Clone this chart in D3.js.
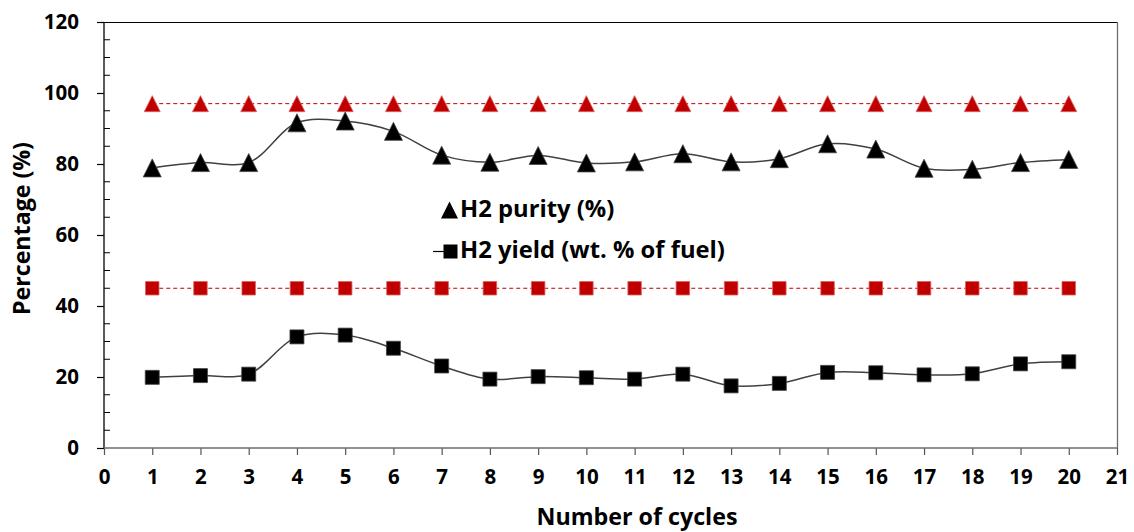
<!DOCTYPE html>
<html><head><meta charset="utf-8">
<script src="https://cdn.jsdelivr.net/npm/d3@7/dist/d3.min.js"></script>
<style>body{margin:0;background:#fff}svg{display:block}text{font-family:"Open Sans",sans-serif;font-weight:bold;fill:#000}</style>
</head><body><svg id="c" width="1134" height="532"></svg>
<script>
const cycles = [1,2,3,4,5,6,7,8,9,10,11,12,13,14,15,16,17,18,19,20];
const purity = [78.9,80.4,80.4,91.6,92.1,89.2,82.5,80.5,82.4,80.3,80.6,82.9,80.6,81.5,85.7,84.2,78.8,78.5,80.4,81.3];
const purityRef = [97,97,97,97,97,97,97,97,97,97,97,97,97,97,97,97,97,97,97,97];
const yieldVals = [19.9,20.4,20.8,31.3,31.8,28.1,23.1,19.4,20.1,19.8,19.4,20.8,17.5,18.2,21.3,21.2,20.6,20.9,23.7,24.3];
const yieldRef = [45,45,45,45,45,45,45,45,45,45,45,45,45,45,45,45,45,45,45,45];
const xTicks = d3.range(0,22);
const yTicks = [0,20,40,60,80,100,120];
const legendLabels = ["H2 purity (%)","H2 yield (wt. % of fuel)"];

const svg = d3.select("#c");
const L=104, R=1117, T=22, B=448;
const x = d3.scaleLinear().domain([0,21]).range([L,R]);
const y = d3.scaleLinear().domain([0,120]).range([B,T]);

function fit(sel, target){ const w = sel.node().getComputedTextLength(); const fs = parseFloat(sel.style("font-size")); const n = fs*target/w; sel.style("font-size", n.toFixed(2)+"px"); return n; }
const triType = { draw(ctx, s){ const h=s/2; ctx.moveTo(0,-h); ctx.lineTo(h,h); ctx.lineTo(-h,h); ctx.closePath(); } };
const sqType = { draw(ctx, s){ const h=s/2; ctx.rect(-h,-h,s,s); } };

svg.append("line").attr("x1",L).attr("x2",R).attr("y1",T+0.5).attr("y2",T+0.5).attr("stroke","#000").attr("stroke-width",1);
svg.append("line").attr("x1",R+0.5).attr("x2",R+0.5).attr("y1",T).attr("y2",B).attr("stroke","#6d6d6d").attr("stroke-width",1.3);

const ya = svg.append("g").attr("transform",`translate(${L},0)`)
  .call(d3.axisLeft(y).tickValues(yTicks).tickSize(7).tickPadding(18).tickFormat(d3.format("d")));
ya.select(".domain").remove();
ya.append("line").attr("x1",0).attr("x2",0).attr("y1",T).attr("y2",B).attr("stroke","#000").attr("stroke-width",1.3);
ya.selectAll(".tick line").attr("stroke","#000").attr("stroke-width",1.2);
ya.selectAll("text").style("font-size","20.5px");
const minor = d3.range(5,120,5).filter(v=>v%20!==0);
svg.append("g").selectAll("line").data(minor).join("line")
  .attr("x1",L).attr("x2",L+6).attr("y1",d=>y(d)).attr("y2",d=>y(d)).attr("stroke","#000").attr("stroke-width",1);

const xa = svg.append("g").attr("transform",`translate(0,${B})`)
  .call(d3.axisBottom(x).tickValues(xTicks).tickSize(7).tickPadding(14).tickFormat(d3.format("d")));
xa.select(".domain").remove();
xa.append("line").attr("x1",L).attr("x2",R).attr("y1",0).attr("y2",0).attr("stroke","#6d6d6d").attr("stroke-width",1.5);
xa.selectAll(".tick line").attr("stroke","#555").attr("stroke-width",1.2);
xa.selectAll("text").style("font-size","20.5px");

const xt = svg.append("text").attr("x",637).attr("y",525).attr("text-anchor","middle").style("font-size","20px").text("Number of cycles");
fit(xt, 201);
const yt = svg.append("text").attr("transform","translate(30,228.5) rotate(-90)").attr("text-anchor","middle").style("font-size","20px").text("Percentage (%)");
fit(yt, 173);

const pts = (vals)=>cycles.map((c,i)=>[c,vals[i]]);
const smooth = d3.line().x(d=>x(d[0])).y(d=>y(d[1])).curve(d3.curveCatmullRom.alpha(0.5));
const straight = d3.line().x(d=>x(d[0])).y(d=>y(d[1]));

[purityRef, yieldRef].forEach(v=>{
  svg.append("path").attr("d",straight(pts(v))).attr("fill","none").attr("stroke","#c00000").attr("stroke-width",1).attr("stroke-dasharray","4,3");
});
[purity, yieldVals].forEach(v=>{
  svg.append("path").attr("d",smooth(pts(v))).attr("fill","none").attr("stroke","#404040").attr("stroke-width",1.5);
});

function markers(vals, type, s, fill, stroke){
  svg.append("g").selectAll("path").data(pts(vals)).join("path")
    .attr("d",d3.symbol().type(type).size(s)).attr("transform",d=>`translate(${x(d[0])},${y(d[1])})`)
    .attr("fill",fill).attr("stroke",stroke).attr("stroke-width",0.8);
}
markers(purityRef, triType, 16, "#c00000", "#e06060");
markers(purity, triType, 18, "#000", "#444");
markers(yieldRef, sqType, 13.5, "#c00000", "#e06060");
markers(yieldVals, sqType, 14, "#000", "#444");

const lg = svg.append("g");
lg.append("path").attr("d",d3.symbol().type(triType).size(17)).attr("transform","translate(449.5,210)").attr("fill","#000");
lg.append("path").attr("d",d3.symbol().type(sqType).size(14)).attr("transform","translate(450.5,251.5)").attr("fill","#000");
lg.append("line").attr("x1",433).attr("x2",444).attr("y1",251.5).attr("y2",251.5).attr("stroke","#000").attr("stroke-width",1.2);
const l1 = lg.append("text").attr("x",460).attr("y",217).style("font-size","20px").text(legendLabels[0]);
const l2 = lg.append("text").attr("x",460).attr("y",258).style("font-size","20px").text(legendLabels[1]);
const fs = fit(l2, 265);
l1.style("font-size", fs.toFixed(2)+"px");
</script></body></html>
